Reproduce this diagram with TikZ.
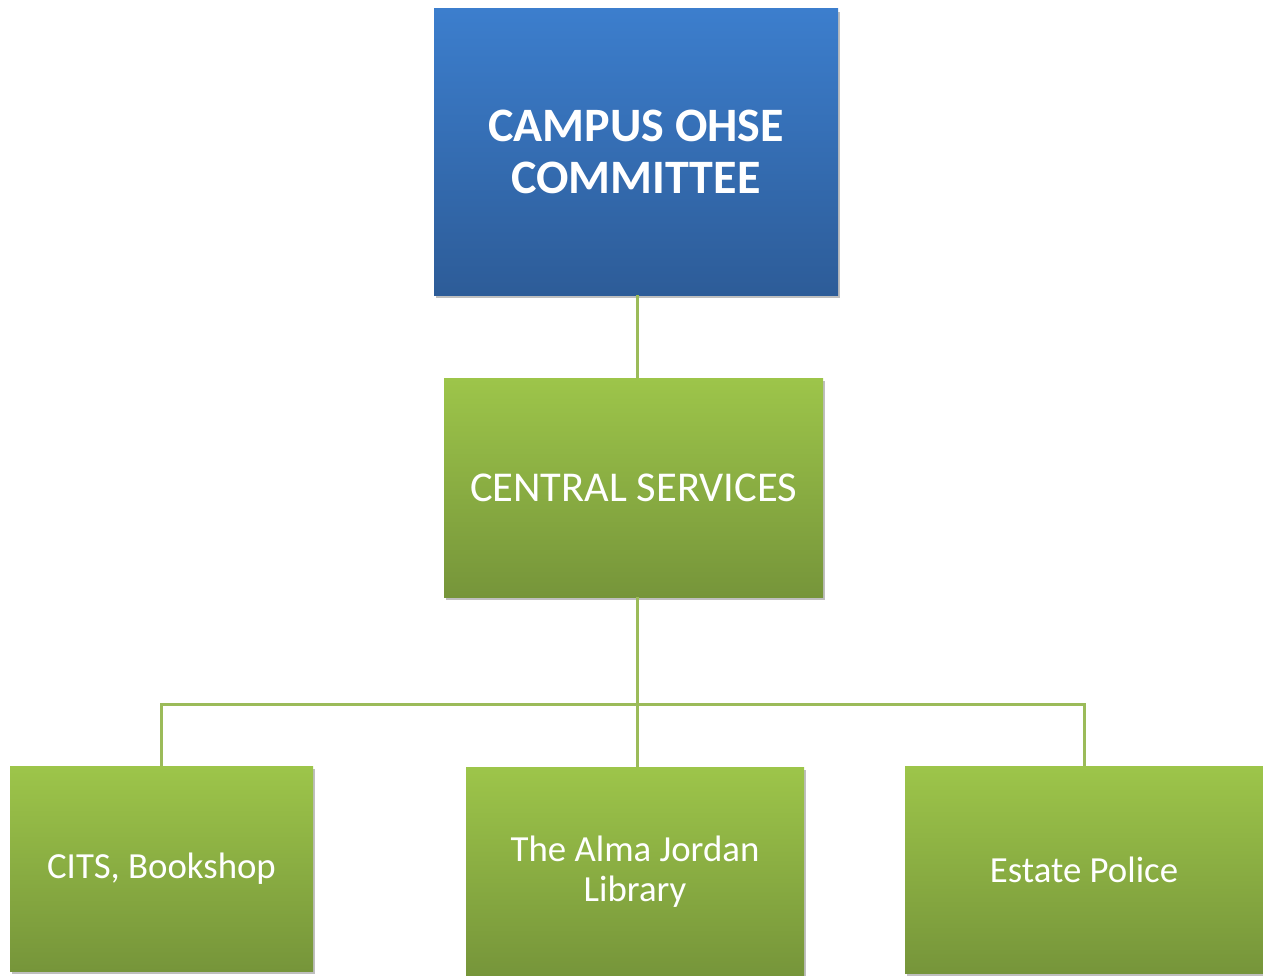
\documentclass[tikz,border=0pt]{standalone}
\usepackage{fontspec}
\setmainfont{Carlito}
\usetikzlibrary{shadows}
\definecolor{bluetop}{HTML}{3C7ECD}
\definecolor{bluebot}{HTML}{2D5C98}
\definecolor{greentop}{HTML}{9DC54A}
\definecolor{greenbot}{HTML}{76953A}
\definecolor{linegreen}{HTML}{9BBB59}
\tikzset{
  box/.style={rectangle, inner sep=0pt, align=center, text=white,
    drop shadow={shadow xshift=2pt, shadow yshift=-3pt, fill=black, opacity=0.25}},
  bluebox/.style={box, top color=bluetop, bottom color=bluebot, font=\fontsize{48}{52}\selectfont\bfseries},
  greenbox/.style={box, top color=greentop, bottom color=greenbot, font=\fontsize{42.5}{46}\selectfont},
  smallbox/.style={box, top color=greentop, bottom color=greenbot, font=\fontsize{36.8}{40}\selectfont},
  conn/.style={draw=linegreen, line width=3pt}
}
\begin{document}
\begin{tikzpicture}[x=1pt,y=-1pt]
\useasboundingbox (0,0) rectangle (1263,976);
\node[bluebox, minimum width=404pt, minimum height=286pt] (top) at (636,152) {CAMPUS OHSE\\COMMITTEE};
\node[greenbox, minimum width=379pt, minimum height=219pt] (central) at (633.5,487.5) {CENTRAL SERVICES};
\node[smallbox, minimum width=303pt, minimum height=205pt] (bl) at (161.5,868.5) {CITS, Bookshop};
\node[smallbox, minimum width=338pt, minimum height=209pt] (bm) at (635,871.5) {The Alma Jordan\\Library};
\node[smallbox, minimum width=358pt, minimum height=207pt] (br) at (1084,869.5) {Estate Police};
\coordinate (bus) at (637,704);
\draw[conn] ([xshift=1pt]top.south) -- ([xshift=1pt]top.south |- central.north);
\draw[conn] (central.south -| bus) -- (bus);
\draw[conn] (bl.north) -- (bl.north |- bus) -- (br.north |- bus) -- (br.north);
\draw[conn] (bus) -- (bus |- bm.north);
\end{tikzpicture}
\end{document}
